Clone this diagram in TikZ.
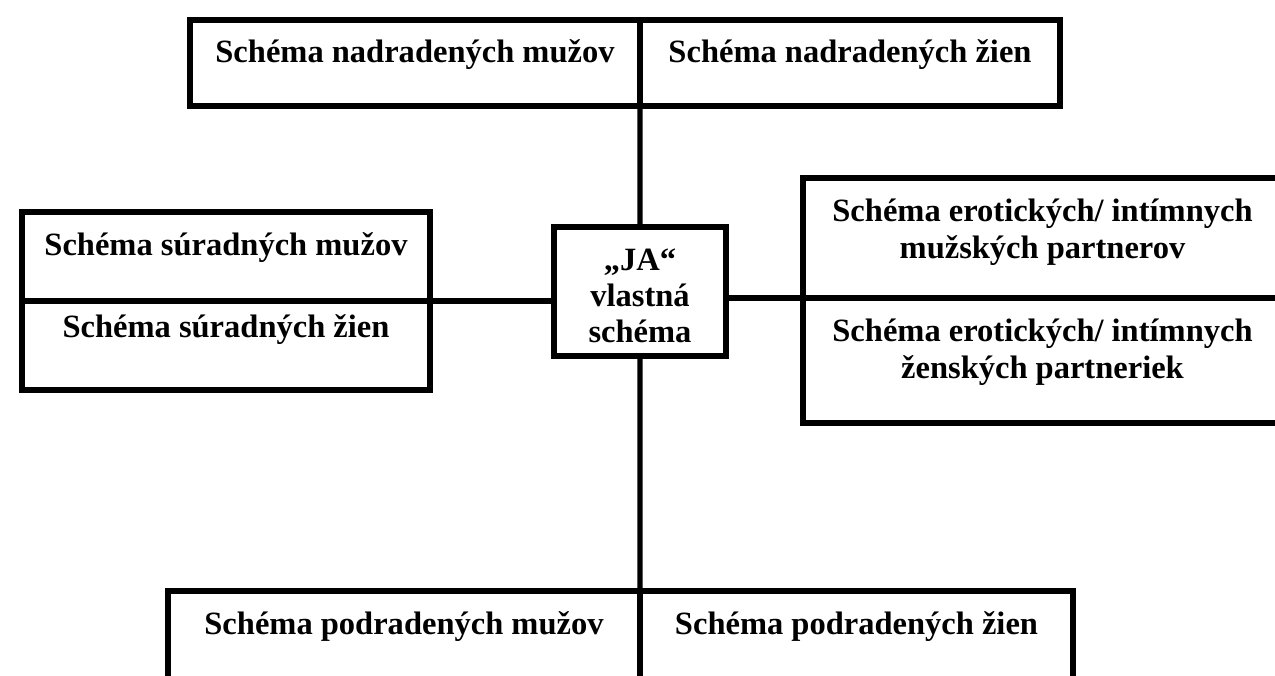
\documentclass[tikz,border=0pt]{standalone}
\usepackage{fontspec}
\setmainfont{Liberation Serif}
\usetikzlibrary{positioning}

\begin{document}
\begin{tikzpicture}[font=\bfseries\fontsize{18.5pt}{20.5pt}\selectfont,
  cell/.style={draw=black,line width=3.7pt,outer sep=0pt,inner sep=0pt,align=center,text height=0.86cm},
  conn/.style={draw=black,line width=3.1pt}]
  \useasboundingbox (0,0) rectangle (25.5,13.5);
  \clip (0,0) rectangle (25.5,13.5);
  % nadradene
  \node[cell,anchor=north west,minimum width=9cm,minimum height=1.72cm,text depth=0.86cm] (nadm) at (3.8,13.1) {Schéma nadradených mužov};
  \node[cell,right=0pt of nadm,minimum width=8.4cm,minimum height=1.72cm,text depth=0.86cm] (nadz) {Schéma nadradených žien};
  % ja
  \node[cell,minimum width=3.44cm,minimum height=2.58cm,text height=2.31cm,text depth=0.27cm] (ja) at (12.8,7.67) {„JA“\\vlastná\\schéma};
  % suradne
  \node[cell,anchor=north west,minimum width=8.16cm,minimum height=1.78cm,text depth=0.92cm] (surm) at (0.44,9.26) {Schéma súradných mužov};
  \node[cell,below=0pt of surm,minimum width=8.16cm,minimum height=1.78cm,text height=0.72cm,text depth=1.06cm] (surz) {Schéma súradných žien};
  % eroticke
  \node[cell,anchor=north west,minimum width=9.58cm,minimum height=2.4cm,text height=1.6cm,text depth=0.8cm] (erom) at (16.06,9.94) {Schéma erotických/ intímnych\\mužských partnerov};
  \node[cell,below=0pt of erom,minimum width=9.58cm,minimum height=2.5cm,text height=1.6cm,text depth=0.9cm] (eroz) {Schéma erotických/ intímnych\\ženských partneriek};
  % podradene
  \node[cell,anchor=north west,minimum width=9.44cm,minimum height=2.68cm,text depth=1.82cm] (podm) at (3.36,1.68) {Schéma podradených mužov};
  \node[cell,right=0pt of podm,minimum width=8.66cm,minimum height=2.68cm,text depth=1.82cm] (podz) {Schéma podradených žien};
  % spojnice
  \draw[conn] (nadm.south east) -- (ja.north);
  \draw[conn] (ja.south) -- (podm.north east);
  \draw[conn] (surm.south east) -- (surm.south east -| ja.west);
  \draw[conn] (ja.east |- erom.south west) -- (erom.south west);
\end{tikzpicture}
\end{document}
